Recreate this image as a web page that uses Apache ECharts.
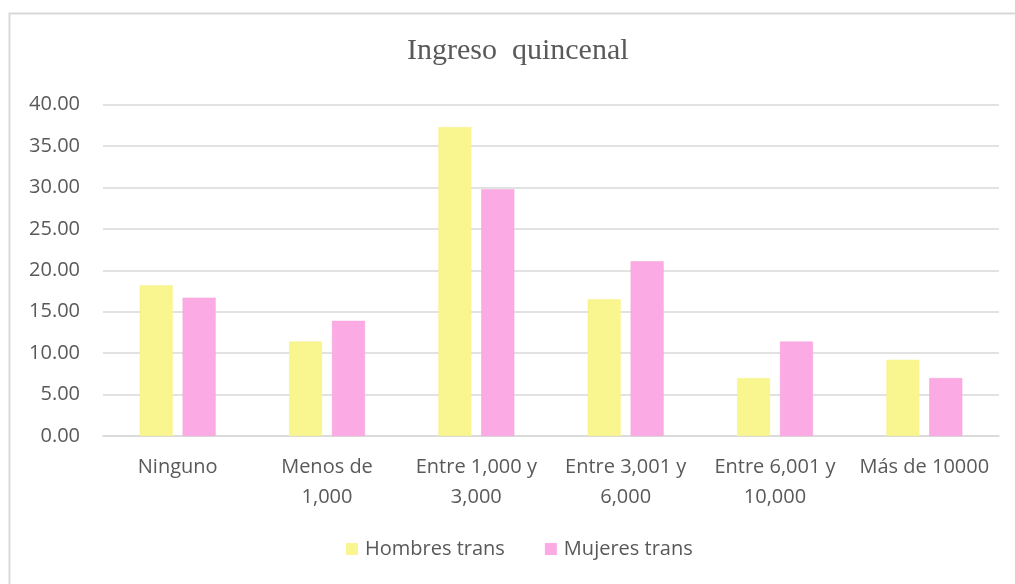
<!DOCTYPE html>
<html>
<head>
<meta charset="utf-8">
<script src="https://cdn.jsdelivr.net/npm/echarts@6/dist/echarts.min.js"></script>
<style>
html,body{margin:0;padding:0;background:#fff;}
#c{width:1015px;height:584px;}
</style>
</head>
<body>
<div id="c"></div>
<script>
const categories = ["Ninguno", "Menos de\n1,000", "Entre 1,000 y\n3,000", "Entre 3,001 y\n6,000", "Entre 6,001 y\n10,000", "Más de 10000"];
const hombresTrans = [18.2, 11.4, 37.3, 16.5, 7.0, 9.2];
const mujeresTrans = [16.7, 13.9, 29.8, 21.1, 11.4, 7.0];
const seriesNames = ["Hombres trans", "Mujeres trans"];
const yTicks = { min: 0, max: 40, interval: 5 };

const chart = echarts.init(document.getElementById('c'), null, { renderer: 'canvas' });
const labelColor = '#595959';
const font = 'Open Sans';
chart.setOption({
  animation: false,
  backgroundColor: '#ffffff',
  graphic: [{
    type: 'rect',
    shape: { x: 9.5, y: 13.5, width: 1100, height: 700 },
    style: { fill: 'none', stroke: '#d9d9d9', lineWidth: 2 },
    silent: true, z: 0
  }],
  title: {
    text: 'Ingreso  quincenal',
    left: 407,
    top: 36,
    padding: 0,
    textStyle: { fontFamily: 'Liberation Serif', fontSize: 30, fontWeight: 'normal', color: labelColor }
  },
  legend: {
    data: seriesNames,
    left: 346,
    top: 539,
    padding: 0,
    itemWidth: 12,
    itemHeight: 12,
    itemGap: 40,
    itemStyle: { borderWidth: 0 },
    textStyle: { fontFamily: font, fontSize: 20, color: labelColor, padding: [0, 0, 0, 2] },
    icon: 'rect'
  },
  grid: { left: 103, right: 16, top: 104.7, bottom: 148, containLabel: false },
  xAxis: {
    type: 'category',
    data: categories,
    axisLine: { show: true, lineStyle: { color: '#d9d9d9', width: 1.5 } },
    axisTick: { show: false },
    axisLabel: { fontFamily: font, fontSize: 20, color: labelColor, lineHeight: 30, margin: 16, interval: 0 }
  },
  yAxis: {
    type: 'value',
    min: yTicks.min, max: yTicks.max, interval: yTicks.interval,
    axisLine: { show: false },
    axisTick: { show: false },
    splitLine: { lineStyle: { color: '#d9d9d9', width: 1.5 } },
    axisLabel: { fontFamily: font, fontSize: 20, color: labelColor, margin: 23,
      formatter: v => v.toFixed(2) }
  },
  series: [
    { name: seriesNames[0], type: 'bar', data: hombresTrans, barWidth: 33, barGap: '30%',
      itemStyle: { color: '#FAF68F', borderColor: '#F5F08A', borderWidth: 0.5 } },
    { name: seriesNames[1], type: 'bar', data: mujeresTrans, barWidth: 33,
      itemStyle: { color: '#FBAAE3', borderColor: '#F7A0DD', borderWidth: 0.5 } }
  ]
});
</script>
</body>
</html>
